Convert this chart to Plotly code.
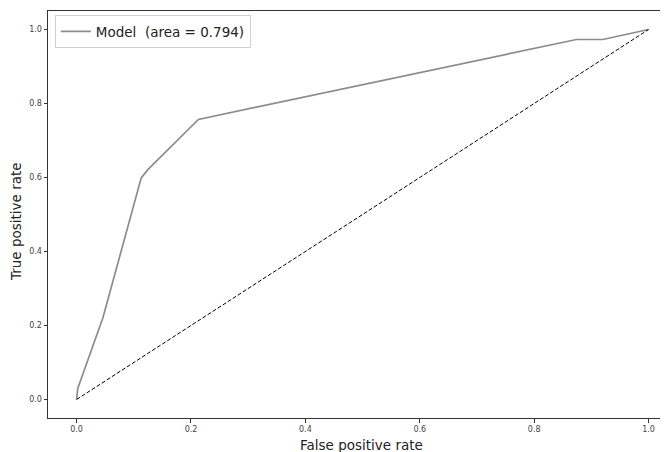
import plotly.graph_objects as go

fpr = [0.0, 0.002, 0.046, 0.113, 0.125, 0.213, 0.874, 0.92, 1.0]
tpr = [0.0, 0.03, 0.221, 0.599, 0.622, 0.757, 0.973, 0.973, 1.0]
diag_x = [0.0, 1.0]
diag_y = [0.0, 1.0]
auc = 0.794
ticks = [0.0, 0.2, 0.4, 0.6, 0.8, 1.0]
tick_text = ["0.0", "0.2", "0.4", "0.6", "0.8", "1.0"]

fig = go.Figure()
fig.add_trace(go.Scatter(x=fpr, y=tpr, mode="lines",
                         line=dict(color="#8c8c8c", width=1.7),
                         name=f"Model  (area = {auc:.3f})"))
fig.add_trace(go.Scatter(x=diag_x, y=diag_y, mode="lines",
                         line=dict(color="black", width=1, dash="4px,2px"),
                         showlegend=False))

# page body adds an 8px offset, so the figure is 660x444 drawn from (8, 8)
font_family = "DejaVu Sans"
fig.update_layout(
    width=660, height=444,
    margin=dict(l=40, r=0, t=3, b=34, autoexpand=False),
    paper_bgcolor="white", plot_bgcolor="white",
    font=dict(family=font_family, color="#222"),
    legend=dict(x=0.011, y=0.99, xanchor="left", yanchor="top",
                bordercolor="#d0d0d0", borderwidth=1,
                bgcolor="rgba(255,255,255,0.8)",
                font=dict(size=13.5, family=font_family, color="#222"),
                itemwidth=30, tracegroupgap=0),
    xaxis=dict(range=[-0.05, 1.034], tickvals=ticks, ticktext=tick_text,
               showgrid=False, zeroline=False, showline=True, linecolor="#333",
               linewidth=1, mirror=True, ticks="outside", ticklen=3.5,
               tickcolor="#333", tickfont=dict(size=8, color="#444"),
               automargin=False),
    yaxis=dict(range=[-0.05, 1.05], tickvals=ticks, ticktext=tick_text,
               showgrid=False, zeroline=False, showline=True, linecolor="#333",
               linewidth=1, mirror=False, ticks="outside", ticklen=3.5,
               tickcolor="#333", tickfont=dict(size=8, color="#444"),
               automargin=False),
    annotations=[
        dict(text="False positive rate", xref="paper", yref="paper",
             x=(361 - 48) / 620, y=0, yshift=-17, xanchor="center", yanchor="top",
             showarrow=False, font=dict(size=13.5, color="#222")),
        dict(text="True positive rate", xref="paper", yref="paper",
             x=0, xshift=-32, y=(418 - 222) / 407, xanchor="center", yanchor="middle",
             textangle=-90, showarrow=False, font=dict(size=13.5, color="#222")),
    ],
)

fig.write_html("out.html")
